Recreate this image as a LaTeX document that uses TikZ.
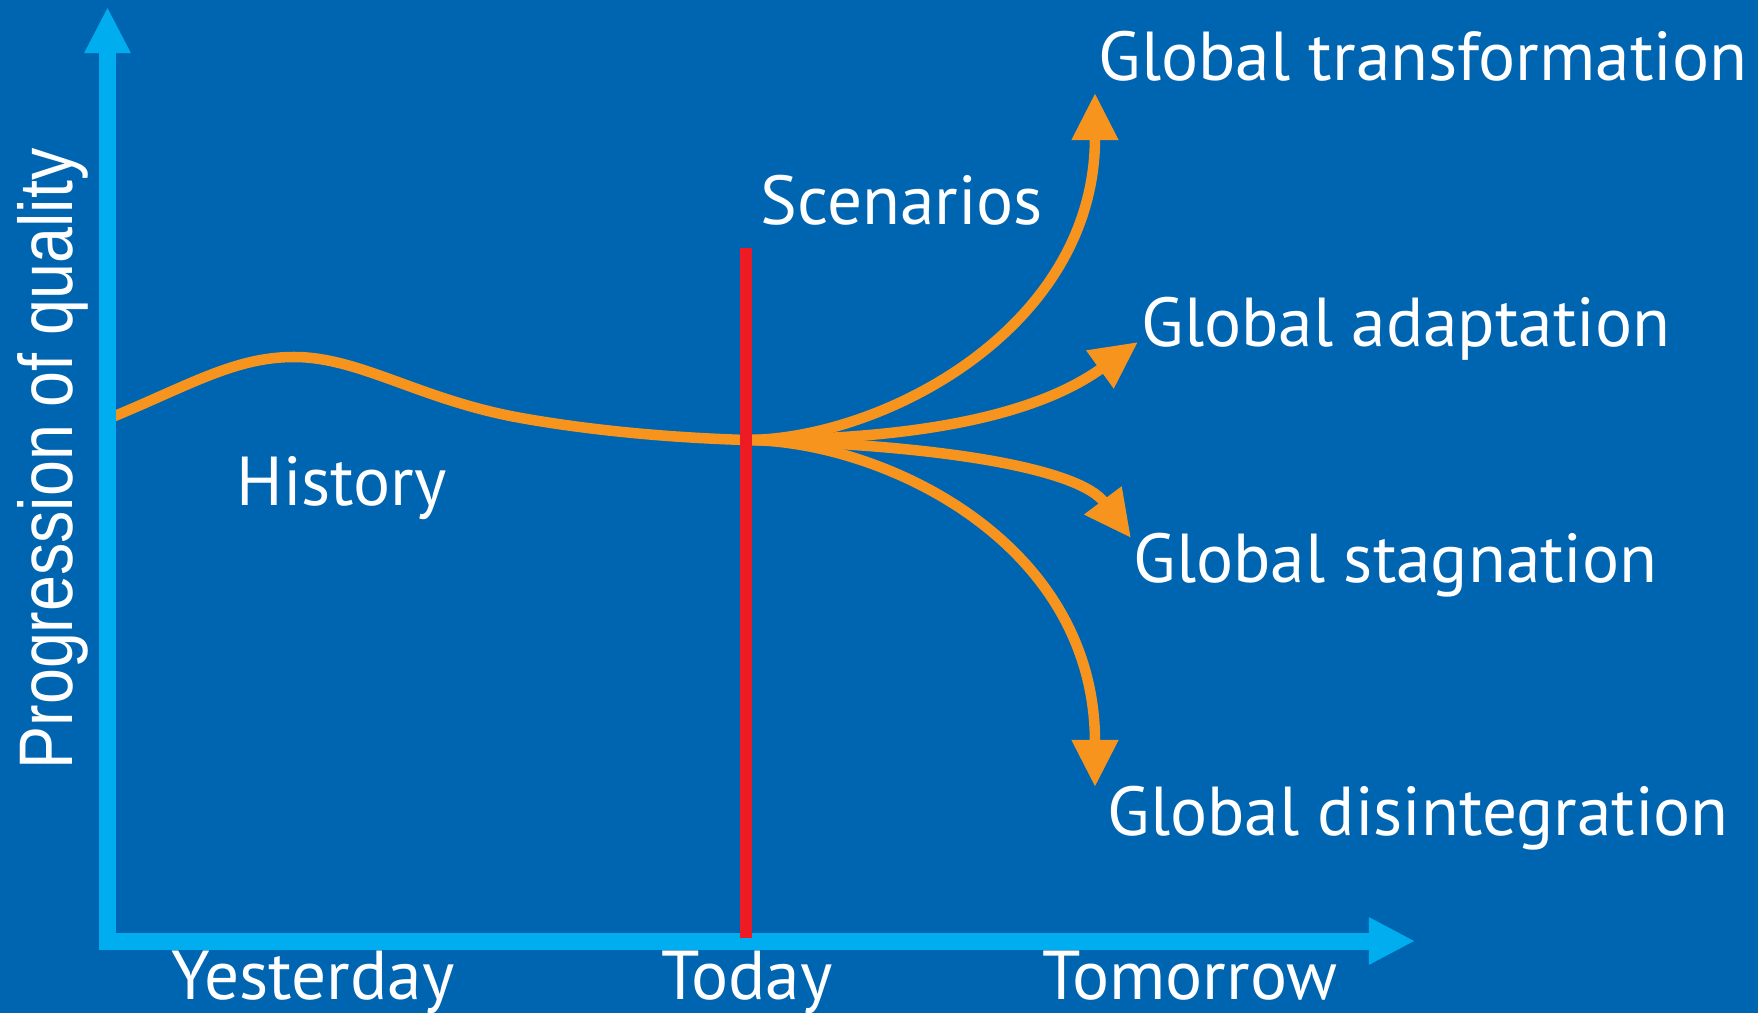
\documentclass[tikz,border=0pt]{standalone}
\usepackage{fontspec}
\setmainfont{PT Sans}
\newfontfamily\qualfont{Liberation Sans}
\usetikzlibrary{arrows.meta}

\definecolor{bgblue}{RGB}{0,101,177}
\definecolor{axisblue}{RGB}{0,174,239}
\definecolor{trendorange}{RGB}{247,148,30}
\definecolor{todayred}{RGB}{237,28,36}

\tikzset{
  axisline/.style={draw=axisblue, line width=0.17cm, line join=miter,
    {Triangle[width=0.43cm,length=0.46cm]}-{Triangle[width=0.44cm,length=0.46cm]}},
  trend/.style={draw=trendorange, line width=0.105cm},
  branch/.style={trend, -{Triangle[width=0.44cm,length=0.47cm]}},
  lbl/.style={text=white, inner sep=0pt, anchor=base west,
    font=\fontsize{19.7}{24}\selectfont},
}

\begin{document}
\begin{tikzpicture}[x=0.01cm, y=-0.01cm]
\fill[bgblue] (0,0) rectangle (1758,1013);
\useasboundingbox (0,0) rectangle (1758,1013);

\coordinate (O) at (107.5,941); % corner of the axes
\coordinate (Ytip) at (107.5,7);
\coordinate (Xtip) at (1415,941);

\coordinate (today) at (746,440); % where the scenarios fan out
\coordinate (trans) at (1095,93); % upper guy.
\coordinate (adapt) at (1138,342);
\coordinate (stag) at (1131,538);
\coordinate (disint) at (1095,787); % lower guy.

% history
\draw[trend] (110,418) .. controls (190,385) and (235,357) .. (294,357)
  .. controls (360,357) and (420,400) .. (521,418)
  .. controls (600,432) and (680,438) .. (today);

% scenarios
\draw[branch] (today) .. controls (880,440) and (1095,330) .. (trans);
\draw[branch] (today) .. controls (900,440) and (1030,420) .. (adapt);
\draw[branch] (today) .. controls (950,445) and (1080,470) .. (stag);
\draw[branch] (today) .. controls (880,440) and (1095,540) .. (disint);

\draw[axisline] (Ytip) -- (O) -- (Xtip);

\coordinate (redtop) at (746,248);
\coordinate (redbot) at (746,938);
\draw[todayred, line width=0.12cm] (redtop) -- (redbot);

\node[lbl] (scen) at (760,225) {Scenarios};
\node[lbl] (hist) at (236,506) {History};
\node[lbl] (yest) at (171,999) {Yesterday};
\node[lbl] (tod) at (661,999) {Today};
\node[lbl] (tom) at (1042,999) {Tomorrow};

\node[lbl] (gtrans) at (1098,81) {Global transformation};
\node[lbl] (gadapt) at (1141,347) {Global adaptation};
\node[lbl] (gstag) at (1133,583) {Global stagnation};
\node[lbl] (gdis) at (1107,835) {Global disintegration};

\node[text=white, inner sep=0pt, anchor=base, rotate=90,
  font=\qualfont\fontsize{21.6}{26}\selectfont] (qual) at (72,459)
  {\scalebox{0.85}[1]{Progression of quality}};

\end{tikzpicture}
\end{document}
